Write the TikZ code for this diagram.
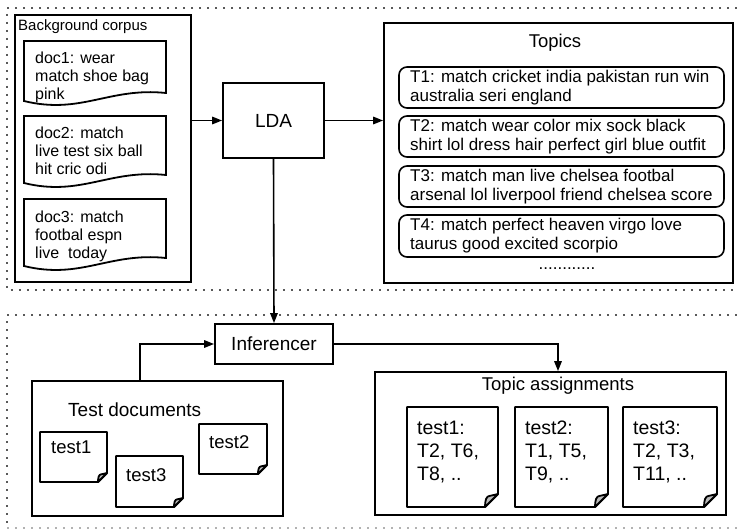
\documentclass[tikz,border=0pt]{standalone}
\usepackage{fontspec}
\setmainfont{Liberation Sans}
\usetikzlibrary{arrows.meta}

% document with a wavy lower edge: left, top, right, bottom-left
\newcommand\wavydoc[4]{%
  \draw[boxline] (#1,#2) -- (#3,#2) -- (#3,{#4-8})
    .. controls ({#3-0.4*(#3-#1)},{#4-14}) and ({#1+0.4*(#3-#1)},{#4+14}) .. (#1,#4) -- cycle;}

% sheet with a folded lower-right corner: left, top, right, bottom, fold size
\newcommand\folddoc[5]{%
  \draw[boxline,line join=round] (#1,#2) -- (#3,#2) -- (#3,{#4-#5}) -- ({#3-#5},#4) -- (#1,#4) -- cycle;
  \filldraw[boxline,fill=gray!55,line join=round] ({#3-#5},#4)
    .. controls ({#3-#5},{#4-0.5*#5}) and ({#3-0.9*#5},{#4-0.85*#5}) .. ({#3-0.65*#5},{#4-0.85*#5})
    -- (#3,{#4-#5}) -- cycle;}

\tikzset{
  boxline/.style={line width=1.8pt},
  box/.style={draw, line width=1.8pt, inner sep=0pt},
  topicbox/.style={draw, line width=1.6pt, rounded corners=8pt},
  conn/.style={line width=1.6pt, -{Triangle[length=10pt,width=7.5pt]}},
  dotline/.style={line width=1.8pt, black!65, dash pattern=on 1.8pt off 6.2pt},
  txt/.style={inner sep=0pt, align=left, anchor=north west},
}

\begin{document}
\begin{tikzpicture}[x=1pt,y=-1pt]
\useasboundingbox (0,0) rectangle (737,530);

% dotted frames of the two stages
\draw[dotline] (737,8) -- (7,8) -- (7,290) -- (737,290);
\draw[dotline] (737,315) -- (7,315) -- (7,528);
\draw[dotline, black!30] (7,528) -- (737,528);

% ---------- training stage ----------
\node[box, minimum width=176pt, minimum height=267pt] (corpus) at (103,148.5) {};
\node[inner sep=0pt, anchor=north west, font=\fontsize{15}{16}\selectfont] (corpuslbl) at (18,19) {Background corpus};

\wavydoc{24}{41}{166}{101}
\wavydoc{24}{116}{166}{183}
\wavydoc{24}{199}{166}{266}
\begin{scope}[every node/.style={txt, font=\fontsize{16}{18}\selectfont}]
  \node (doc1) at (35,52) {doc1: wear\\match shoe bag\\pink};
  \node (doc2) at (35,127) {doc2: match\\live test six ball\\hit cric odi};
  \node (doc3) at (35,211) {doc3: match\\footbal espn\\live\ \ today};
\end{scope}

\node[box, minimum width=101pt, minimum height=75pt, font=\fontsize{19}{22}\selectfont] (lda) at (273.5,120.5) {LDA};

\node[box, minimum width=349pt, minimum height=260pt] (topics) at (558.5,153) {};
\node[font=\fontsize{18.5}{22}\selectfont, inner sep=0pt] (topicslbl) at (555,43) {Topics};

\begin{scope}[every node/.style={txt, anchor=west, font=\fontsize{17}{19}\selectfont}]
  \draw[topicbox] (399,67) rectangle (724,108);
  \node (t1) at (410,87.5) {T1: match cricket india pakistan run win\\australia seri england};
  \draw[topicbox] (399,116) rectangle (724,157);
  \node (t2) at (410,136.5) {T2: match wear color mix sock black\\shirt lol dress hair perfect girl blue outfit};
  \draw[topicbox] (399,166) rectangle (724,207);
  \node (t3) at (410,186.5) {T3: match man live chelsea footbal\\arsenal lol liverpool friend chelsea score};
  \draw[topicbox] (399,215) rectangle (724,257);
  \node (t4) at (410,236) {T4: match perfect heaven virgo love\\taurus good excited scorpio};
\end{scope}
\node[inner sep=0pt, font=\fontsize{17}{19}\selectfont] (tdots) at (567,269) {............};

% ---------- inference stage ----------
\node[box, minimum width=118pt, minimum height=40pt, font=\fontsize{19}{22}\selectfont] (inf) at (274,344) {Inferencer};

\node[box, minimum width=251pt, minimum height=135pt] (testdocs) at (157.5,448.5) {};
\node[inner sep=0pt, anchor=north west, font=\fontsize{19}{22}\selectfont] (testlbl) at (68,403) {Test documents};

\folddoc{40}{432}{107}{482}{9}
\folddoc{116}{456}{183}{507}{9}
\folddoc{199}{424}{267}{474}{9}
\begin{scope}[every node/.style={txt, font=\fontsize{18.5}{22}\selectfont}]
  \node (test1) at (51,441) {test1};
  \node (test3) at (126,468) {test3};
  \node (test2) at (209,435) {test2};
\end{scope}

\node[box, minimum width=351pt, minimum height=143pt] (assign) at (550.5,443.5) {};
\node[inner sep=0pt, font=\fontsize{18.5}{22}\selectfont] (assignlbl) at (558,386) {Topic assignments};

\folddoc{407}{407}{498}{507}{13}
\folddoc{515}{407}{608}{507}{13}
\folddoc{623}{407}{717}{507}{13}
\begin{scope}[every node/.style={txt, font=\fontsize{19.5}{23}\selectfont}]
  \node (a1) at (417,421) {test1:\\T2, T6,\\T8, ..};
  \node (a2) at (525,421) {test2:\\T1, T5,\\T9, ..};
  \node (a3) at (633,421) {test3:\\T2, T3,\\T11, ..};
\end{scope}

% ---------- connectors ----------
\draw[conn] (corpus.east |- lda.west) -- (lda.west);
\draw[conn] (lda.east) -- (lda.east -| topics.west);
\draw[conn] (lda.south) -- (inf.north);
\draw[conn] ([xshift=109pt]testdocs.north west) |- (inf.west);
\draw[conn] (inf.east) -| ([xshift=7.5pt]assign.north);
\end{tikzpicture}
\end{document}
